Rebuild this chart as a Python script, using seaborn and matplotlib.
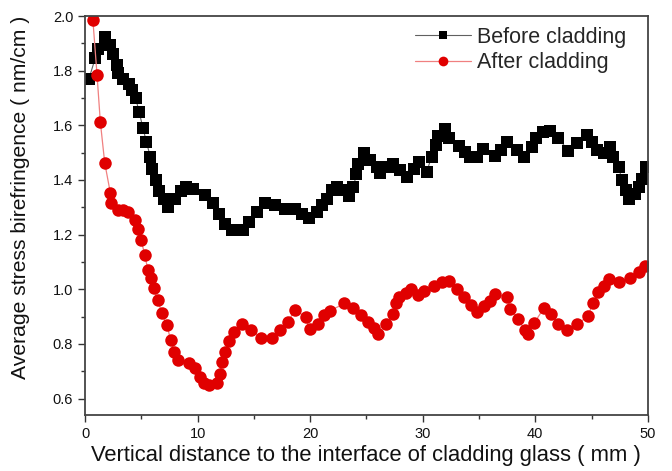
import matplotlib
matplotlib.use("Agg")
import matplotlib.pyplot as plt
import seaborn as sns
import pandas as pd
from matplotlib.lines import Line2D
from matplotlib.ticker import MultipleLocator, FormatStrFormatter

# ---- data ----
before_x = [0.0, 0.35, 0.9, 1.15, 1.75, 2.25, 2.5, 2.8, 2.9, 3.4, 3.9, 4.2, 4.5, 4.8,
            5.15, 5.45, 5.8, 5.95, 6.3, 6.6, 7.0, 7.4, 8.0, 8.55, 9.0, 9.6, 10.7,
            11.4, 11.9, 12.45, 13.05, 14.05, 14.55, 15.25, 16.0, 16.85, 17.75, 18.7,
            19.25, 19.9, 20.6, 21.05, 21.5, 21.95, 22.4, 22.8, 23.45, 23.85, 24.1,
            24.25, 24.75, 25.3, 25.9, 26.2, 26.9, 27.4, 28.0, 28.6, 29.2, 29.7,
            30.35, 30.8, 31.15, 31.4, 31.95, 32.35, 33.2, 33.75, 34.2, 34.8, 35.4,
            36.4, 37.0, 37.5, 38.4, 39.0, 39.7, 40.1, 40.7, 41.3, 42.05, 42.95,
            43.7, 44.6, 45.0, 45.5, 46.1, 46.65, 46.95, 47.4, 47.7, 48.1, 48.3,
            48.9, 49.2, 49.5, 49.8]
before_y = [1.77, 1.77, 1.845, 1.878, 1.924, 1.894, 1.86, 1.82, 1.79, 1.77, 1.75, 1.73,
            1.70, 1.65, 1.59, 1.54, 1.485, 1.44, 1.40, 1.36, 1.33, 1.30, 1.33, 1.36,
            1.375, 1.366, 1.345, 1.314, 1.277, 1.24, 1.216, 1.216, 1.247, 1.283,
            1.314, 1.308, 1.292, 1.292, 1.277, 1.259, 1.283, 1.308, 1.332, 1.363,
            1.375, 1.365, 1.34, 1.375, 1.42, 1.458, 1.50, 1.473, 1.448, 1.424,
            1.448, 1.46, 1.436, 1.41, 1.44, 1.466, 1.43, 1.485, 1.527, 1.56, 1.585,
            1.552, 1.524, 1.503, 1.485, 1.485, 1.515, 1.487, 1.51, 1.54, 1.51,
            1.485, 1.52, 1.552, 1.576, 1.58, 1.552, 1.507, 1.534, 1.564, 1.54,
            1.51, 1.50, 1.52, 1.485, 1.448, 1.40, 1.363, 1.332, 1.35, 1.375, 1.405,
            1.448]

after_x = [0.7, 1.07, 1.36, 1.75, 2.25, 2.35, 2.9, 3.4, 3.85, 4.45, 4.7, 5.0, 5.3,
           5.6, 5.85, 6.1, 6.5, 6.8, 7.3, 7.6, 7.95, 8.3, 9.25, 9.8, 10.25, 10.6,
           11.0, 11.7, 11.95, 12.2, 12.45, 12.75, 13.2, 13.95, 14.75, 15.65, 16.6,
           17.3, 18.0, 18.65, 19.6, 19.95, 20.7, 21.2, 21.8, 23.05, 23.85, 24.55,
           25.1, 25.65, 26.05, 26.75, 27.4, 27.6, 27.9, 28.55, 29.0, 29.6, 30.15,
           31.0, 31.7, 32.3, 33.05, 33.7, 34.3, 34.8, 35.45, 35.95, 36.4, 37.5,
           37.8, 38.5, 39.05, 39.4, 39.9, 40.75, 41.4, 42.05, 42.8, 43.75, 44.7,
           45.1, 45.6, 46.15, 46.55, 47.45, 48.4, 49.2, 49.75]
after_y = [1.985, 1.784, 1.613, 1.463, 1.353, 1.314, 1.29, 1.29, 1.283, 1.255, 1.222,
           1.18, 1.125, 1.07, 1.04, 1.003, 0.96, 0.913, 0.868, 0.813, 0.77, 0.742,
           0.73, 0.71, 0.679, 0.657, 0.648, 0.657, 0.69, 0.733, 0.77, 0.81, 0.844,
           0.874, 0.85, 0.823, 0.823, 0.852, 0.88, 0.923, 0.90, 0.854, 0.874,
           0.905, 0.922, 0.948, 0.93, 0.905, 0.88, 0.86, 0.836, 0.873, 0.908,
           0.948, 0.973, 0.987, 1.001, 0.98, 0.995, 1.013, 1.028, 1.03, 1.0, 0.97,
           0.943, 0.917, 0.937, 0.958, 0.983, 0.971, 0.927, 0.891, 0.851, 0.838,
           0.876, 0.93, 0.909, 0.873, 0.85, 0.873, 0.902, 0.948, 0.99, 1.012,
           1.037, 1.027, 1.04, 1.063, 1.086]

series_labels = ["Before cladding", "After cladding"]
x_ticks = [0, 10, 20, 30, 40, 50]
y_ticks = [0.6, 0.8, 1.0, 1.2, 1.4, 1.6, 1.8, 2.0]

# ---- plotting ----
sns.set_style("ticks")
plt.rcParams["font.family"] = ["Liberation Sans", "DejaVu Sans"]

fig = plt.figure(figsize=(6.72, 4.71), dpi=100)
ax = fig.add_axes([0.1265, 0.119, 0.8375, 0.847])

df_b = pd.DataFrame({"x": before_x, "y": before_y})
df_a = pd.DataFrame({"x": after_x, "y": after_y})

red = "#e00000"
sns.lineplot(data=df_b, x="x", y="y", ax=ax, sort=False, color="#606060",
             linewidth=0.8, marker="s", markersize=8, markerfacecolor="black",
             markeredgecolor="black", markeredgewidth=0)
sns.lineplot(data=df_a, x="x", y="y", ax=ax, sort=False, color="#f08080",
             linewidth=0.9, marker="o", markersize=9, markerfacecolor=red,
             markeredgecolor=red, markeredgewidth=0)

ax.set_xlim(0, 50)
ax.set_ylim(0.54, 2.0)
ax.set_xticks(x_ticks)
ax.set_yticks(y_ticks)
ax.yaxis.set_major_formatter(FormatStrFormatter("%.1f"))
ax.xaxis.set_minor_locator(MultipleLocator(5))
ax.yaxis.set_minor_locator(MultipleLocator(0.1))
ax.tick_params(which="major", direction="out", length=5, width=1.0,
               labelsize=10.5, color="#333333", labelcolor="#111111")
ax.tick_params(which="minor", direction="out", length=3, width=1.0, color="#333333")

for s in ax.spines.values():
    s.set_visible(True)
    s.set_color("#444444")
    s.set_linewidth(1.3)

ax.set_xlabel("Vertical distance to the interface of cladding glass ( mm )",
              fontsize=15.8, color="#111111", labelpad=3)
ax.set_ylabel("Average stress birefringence ( nm/cm )",
              fontsize=15.2, color="#111111")
ax.yaxis.set_label_coords(-0.098, 0.545)

handles = [
    Line2D([], [], color="#606060", linewidth=0.8, marker="s", markersize=6,
           markerfacecolor="black", markeredgewidth=0),
    Line2D([], [], color="#f08080", linewidth=0.9, marker="o", markersize=7,
           markerfacecolor=red, markeredgewidth=0),
]
ax.legend(handles, series_labels, loc="upper right", frameon=False, fontsize=15.5,
          handlelength=2.6, handletextpad=0.3, labelspacing=0.2,
          borderaxespad=0.2, bbox_to_anchor=(0.985, 1.005))

fig.savefig("out.png", dpi=100)
